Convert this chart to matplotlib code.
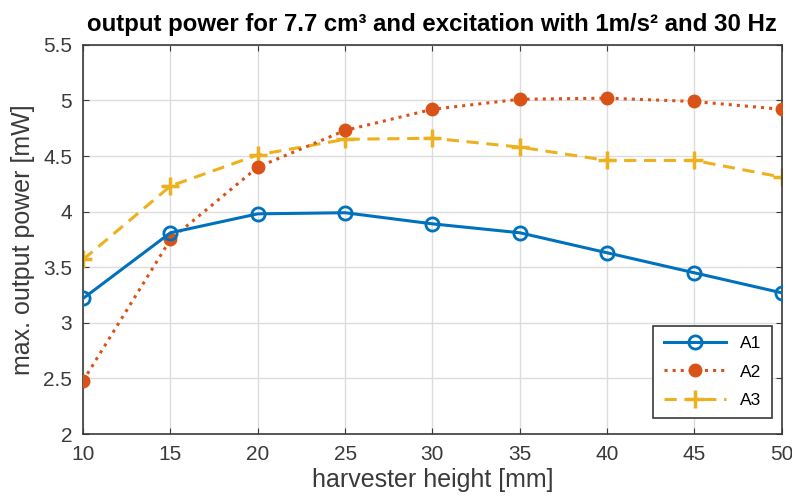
import matplotlib
matplotlib.use('Agg')
import matplotlib.pyplot as plt

plt.rcParams['font.family'] = ['Liberation Sans', 'DejaVu Sans']

# data
height = [10, 15, 20, 25, 30, 35, 40, 45, 50]
a1 = [3.22, 3.81, 3.98, 3.99, 3.89, 3.81, 3.63, 3.45, 3.27]
a2 = [2.48, 3.75, 4.40, 4.73, 4.92, 5.01, 5.02, 4.99, 4.92]
a3 = [3.57, 4.23, 4.51, 4.65, 4.66, 4.58, 4.46, 4.46, 4.31]
yticks = [2, 2.5, 3, 3.5, 4, 4.5, 5, 5.5]
yticklabels = ['2', '2.5', '3', '3.5', '4', '4.5', '5', '5.5']

C1 = '#0072BD'
C2 = '#D95319'
C3 = '#EDB120'
AX = '#3a3a3a'

fig = plt.figure(figsize=(7.92, 5.03), dpi=100, facecolor='white')
ax = fig.add_axes([0.105, 0.137, 0.882, 0.774])

ax.plot(height, a1, color=C1, linewidth=2.2, marker='o', markersize=9.5,
        markerfacecolor='none', markeredgewidth=2, label='A1', zorder=4)
ax.plot(height, a2, color=C2, linewidth=2.2, linestyle=':', marker='o',
        markersize=9, markerfacecolor=C2, markeredgecolor=C2, label='A2', zorder=3)
ax.plot(height, a3, color=C3, linewidth=2.2, linestyle=(0, (4, 2.5)), marker='+',
        markersize=13, markeredgewidth=2.5, label='A3', zorder=2)

ax.set_xlim(10, 50)
ax.set_ylim(2, 5.5)
ax.set_xticks(range(10, 51, 5))
ax.set_yticks(yticks)
ax.set_yticklabels(yticklabels)
ax.grid(True, color='#dcdcdc', linewidth=1)
ax.set_axisbelow(True)
ax.tick_params(direction='in', labelsize=15, colors=AX, length=4, top=True, right=True)
ax.tick_params(axis='x', pad=8)
ax.tick_params(axis='y', pad=8)
for s in ax.spines.values():
    s.set_color(AX)
    s.set_linewidth(1.2)

ax.set_xlabel('harvester height [mm]', fontsize=18, color=AX, labelpad=3)
ax.set_ylabel('max. output power [mW]', fontsize=18, color=AX, labelpad=6)
ax.set_title('output power for 7.7 cm³ and excitation with 1m/s² and 30 Hz',
             fontsize=17.3, fontweight='bold', color='black', pad=10)

leg = ax.legend(loc='lower right', fontsize=12.5, frameon=True, fancybox=False,
                edgecolor=AX, framealpha=1, handlelength=3.6, borderpad=0.6,
                labelspacing=0.75, borderaxespad=0, bbox_to_anchor=(0.986, 0.041))
leg.get_frame().set_linewidth(1.2)

fig.savefig('out.png', dpi=100, facecolor='white')
